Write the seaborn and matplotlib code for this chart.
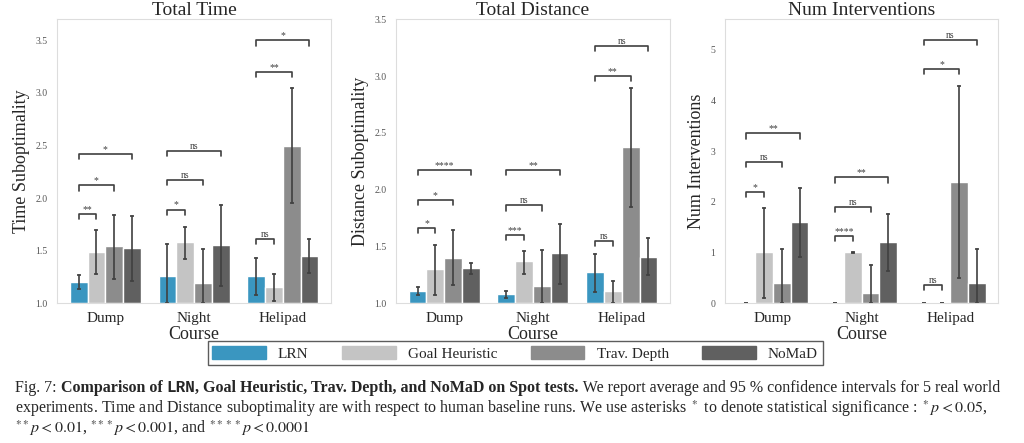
import numpy as np
import pandas as pd
import matplotlib
matplotlib.use("Agg")
import matplotlib.pyplot as plt
import seaborn as sns

courses = ["Dump", "Night", "Helipad"]
methods = ["LRN", "Goal Heuristic", "Trav. Depth", "NoMaD"]
colors = ["#3a96c0", "#c4c4c4", "#8c8c8c", "#606060"]

# means per course (rows) x method (cols)
time_mean = [[1.20, 1.49, 1.54, 1.52], [1.26, 1.58, 1.19, 1.55], [1.26, 1.15, 2.50, 1.45]]
time_lo = [[1.13, 1.28, 1.23, 1.21], [1.00, 1.42, 1.00, 1.16], [1.08, 1.02, 1.95, 1.29]]
time_hi = [[1.27, 1.70, 1.84, 1.83], [1.56, 1.72, 1.51, 1.93], [1.43, 1.28, 3.05, 1.61]]

dist_mean = [[1.11, 1.30, 1.40, 1.31], [1.08, 1.37, 1.15, 1.44], [1.27, 1.11, 2.38, 1.41]]
dist_lo = [[1.07, 1.07, 1.16, 1.26], [1.04, 1.26, 1.00, 1.17], [1.10, 1.00, 1.85, 1.25]]
dist_hi = [[1.14, 1.51, 1.64, 1.35], [1.11, 1.46, 1.47, 1.70], [1.43, 1.19, 2.90, 1.57]]

int_mean = [[0.0, 1.0, 0.4, 1.6], [0.0, 1.0, 0.2, 1.2], [0.0, 0.0, 2.4, 0.4]]
int_lo = [[0.0, 0.1, 0.0, 0.9], [0.0, 0.99, 0.0, 0.63], [0.0, 0.0, 0.5, 0.0]]
int_hi = [[0.0, 1.87, 1.07, 2.27], [0.0, 1.0, 0.75, 1.75], [0.0, 0.0, 4.28, 1.07]]

# significance brackets: (course index, method j compared to LRN, height, label)
time_sig = [(0, 1, 1.85, "**"), (0, 2, 2.12, "*"), (0, 3, 2.42, "*"),
            (1, 1, 1.89, "*"), (1, 2, 2.17, "ns"), (1, 3, 2.45, "ns"),
            (2, 1, 1.61, "ns"), (2, 2, 3.20, "**"), (2, 3, 3.50, "*")]
dist_sig = [(0, 1, 1.66, "*"), (0, 2, 1.91, "*"), (0, 3, 2.17, "****"),
            (1, 1, 1.60, "***"), (1, 2, 1.86, "ns"), (1, 3, 2.17, "**"),
            (2, 1, 1.55, "ns"), (2, 2, 3.00, "**"), (2, 3, 3.27, "ns")]
int_sig = [(0, 1, 2.20, "*"), (0, 2, 2.78, "ns"), (0, 3, 3.35, "**"),
           (1, 1, 1.32, "****"), (1, 2, 1.90, "ns"), (1, 3, 2.48, "**"),
           (2, 1, 0.35, "ns"), (2, 2, 4.62, "*"), (2, 3, 5.20, "ns")]

panels = [
    ("Total Time", "Time Suboptimality", time_mean, time_lo, time_hi, time_sig, (1.0, 3.7), [1.0, 1.5, 2.0, 2.5, 3.0, 3.5], "{:.1f}"),
    ("Total Distance", "Distance Suboptimality", dist_mean, dist_lo, dist_hi, dist_sig, (1.0, 3.5), [1.0, 1.5, 2.0, 2.5, 3.0, 3.5], "{:.1f}"),
    ("Num Interventions", "Num Interventions", int_mean, int_lo, int_hi, int_sig, (0, 5.6), [0, 1, 2, 3, 4, 5], "{:d}"),
]

sns.set_style("white")
plt.rcParams["font.family"] = ["Liberation Serif", "DejaVu Serif"]
plt.rcParams["mathtext.fontset"] = "stix"

fig = plt.figure(figsize=(10.24, 4.43), dpi=100)
lefts = [0.056, 0.387, 0.708]
axes = [fig.add_axes([l, 0.316, 0.267, 0.64]) for l in lefts]

for ax, (title, ylab, mean, lo, hi, sig, ylim, yt, fmt) in zip(axes, panels):
    rows = []
    for ci, c in enumerate(courses):
        for mi, m in enumerate(methods):
            rows.append({"Course": c, "Method": m, "value": mean[ci][mi]})
    df = pd.DataFrame(rows)
    base = ylim[0]
    df["h"] = df["value"] - base
    sns.barplot(data=df, x="Course", y="h", hue="Method", palette=colors,
                bottom=base, ax=ax, width=0.8, saturation=1, legend=False, errorbar=None)
    ax.set_ylim(*ylim)
    # bar centres from the patches, hue order
    pos = {}
    patches = [p for p in ax.patches if p.get_width() > 0]
    k = 0
    for mi in range(len(methods)):
        for ci in range(len(courses)):
            p = patches[k]
            pos[(ci, mi)] = p.get_x() + p.get_width() / 2
            k += 1
    for ci in range(len(courses)):
        for mi in range(len(methods)):
            x = pos[(ci, mi)]
            ax.plot([x, x], [lo[ci][mi], hi[ci][mi]], color="#404040", lw=1.2)
            ax.plot([x], [lo[ci][mi]], marker="_", color="#404040", ms=3, mew=1.2)
            ax.plot([x], [hi[ci][mi]], marker="_", color="#404040", ms=3, mew=1.2)
    tick = (ylim[1] - ylim[0]) * 0.018
    for ci, j, h, lab in sig:
        x0, x1 = pos[(ci, 0)], pos[(ci, j)]
        ax.plot([x0, x0, x1, x1], [h - tick, h, h, h - tick], color="#404040", lw=1.2)
        ax.text((x0 + x1) / 2, h, lab, ha="center", va="bottom", fontsize=7, color="#404040")
    ax.set_title(title, fontsize=14, pad=3)
    ax.set_ylabel(ylab, fontsize=13)
    ax.set_xlabel("Course", fontsize=13, labelpad=1)
    ax.set_yticks(yt)
    ax.set_yticklabels([fmt.format(v) for v in yt], fontsize=7, color="#555555")
    ax.tick_params(axis="x", labelsize=11, pad=3)
    ax.set_xticklabels(courses)
    for s in ax.spines.values():
        s.set_color("#dddddd")

handles = [plt.Rectangle((0, 0), 1, 1, color=c) for c in colors]
fig.legend(handles, methods, loc="center", bbox_to_anchor=(0.503, 0.203), ncol=4,
           fontsize=11, handlelength=3.5, handleheight=1.0, columnspacing=2.2,
           frameon=True, edgecolor="#333333", fancybox=False, borderpad=0.3)

# caption
fs = 11.5
r = fig.canvas.get_renderer()
x = 0.015
y1 = 0.115
parts = [("Fig. 7: ", "normal", "serif"), ("Comparison of ", "bold", "serif"),
         ("LRN", "bold", "monospace"),
         (", Goal Heuristic, Trav. Depth, and NoMaD on Spot tests.", "bold", "serif"),
         (" We report average and 95 % confidence intervals for 5 real world", "normal", "serif")]
for txt, w, fam in parts:
    fam_list = ["Liberation Mono", "DejaVu Sans Mono"] if fam == "monospace" else ["Liberation Serif", "DejaVu Serif"]
    t = fig.text(x, y1, txt, fontsize=fs, fontweight=w, family=fam_list, va="baseline")
    bb = t.get_window_extent(renderer=r)
    x += bb.width / fig.bbox.width
fig.text(0.015, 0.068, "experiments. Time and Distance suboptimality are with respect to human baseline runs. We use asterisks $^*$ to denote statistical significance : $^*p < 0.05$,",
         fontsize=fs, va="baseline")
fig.text(0.015, 0.022, "$^{**}p < 0.01$, $^{***}p < 0.001$, and $^{****}p < 0.0001$",
         fontsize=fs, va="baseline")

fig.savefig("out.png", dpi=100)
